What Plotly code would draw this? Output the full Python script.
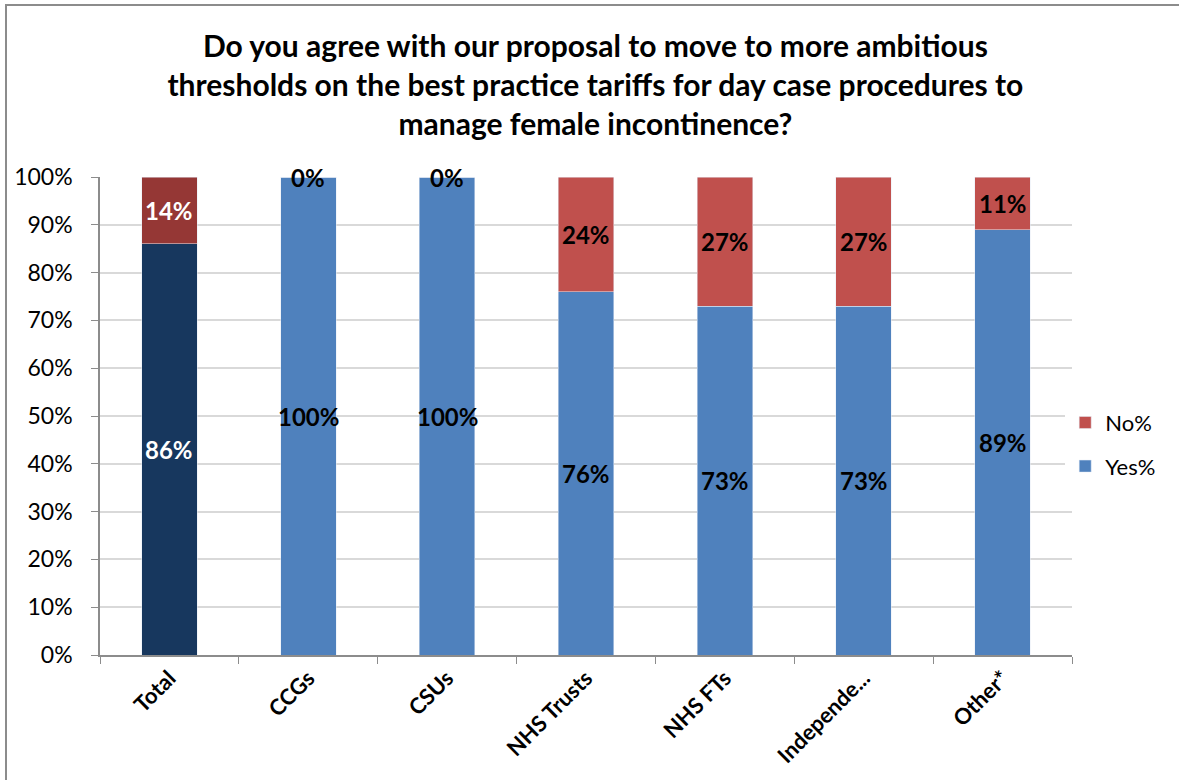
import plotly.graph_objects as go

categories = ["Total", "CCGs", "CSUs", "NHS Trusts", "NHS FTs", "Independe...", "Other*"]
yes_pct = [86, 100, 100, 76, 73, 73, 89]
no_pct = [14, 0, 0, 24, 27, 27, 11]
y_ticks = [0, 10, 20, 30, 40, 50, 60, 70, 80, 90, 100]
title_text = ("Do you agree with our proposal to move to more ambitious<br>"
              "thresholds on the best practice tariffs for day case procedures to<br>"
              "manage female incontinence?")

FONT = "Lato, 'Open Sans', sans-serif"
YES_C, NO_C = "#4F81BD", "#C0504D"
TOT_YES_C, TOT_NO_C = "#17375E", "#953735"

fig = go.Figure()
rest = categories[1:]
fig.add_trace(go.Bar(x=rest, y=yes_pct[1:], name="Yes%", marker_color=YES_C,
                     legendgroup="yes", legendrank=2))
fig.add_trace(go.Bar(x=rest, y=no_pct[1:], name="No%", marker_color=NO_C,
                     legendgroup="no", legendrank=1))
fig.add_trace(go.Bar(x=categories[:1], y=yes_pct[:1], name="Yes%", marker_color=TOT_YES_C,
                     showlegend=False, legendgroup="yes", legendrank=2))
fig.add_trace(go.Bar(x=categories[:1], y=no_pct[:1], name="No%", marker_color=TOT_NO_C,
                     showlegend=False, legendgroup="no", legendrank=1))

annotations = []
for i, c in enumerate(categories):
    col = "white" if i == 0 else "black"
    annotations.append(dict(x=c, y=yes_pct[i] / 2, text=f"{yes_pct[i]}%", showarrow=False,
                            font=dict(family=FONT, size=24, color=col, weight="bold")))
    annotations.append(dict(x=c, y=yes_pct[i] + no_pct[i] / 2, text=f"{no_pct[i]}%", showarrow=False,
                            font=dict(family=FONT, size=24, color=col, weight="bold")))

fig.update_layout(
    width=1179, height=780,
    margin=dict(l=100, r=107, t=177, b=125),
    paper_bgcolor="white", plot_bgcolor="white",
    barmode="stack", bargap=0.6,
    font=dict(family=FONT, size=20, color="black"),
    title=dict(text=title_text, x=0.505, xanchor="center", y=0.927, yanchor="top",
               font=dict(family=FONT, size=30, color="black", weight="bold")),
    legend=dict(x=0.993, xanchor="left", y=0.44, yanchor="middle", font=dict(size=22),
                traceorder="grouped", tracegroupgap=12),
    annotations=annotations,
    xaxis=dict(categoryorder="array", categoryarray=categories, tickangle=-45,
               showline=True, linecolor="#8C8C8C", linewidth=1.5,
               ticks="outside", tickson="boundaries", ticklen=7, tickcolor="#8C8C8C",
               tickfont=dict(family=FONT, size=22, color="black", weight="bold")),
    yaxis=dict(range=[0, 100], tickvals=y_ticks, ticktext=[f"{v}%" for v in y_ticks],
               showline=True, linecolor="#8C8C8C", linewidth=1.5,
               ticks="outside", ticklen=7, tickcolor="#8C8C8C", ticklabelstandoff=14,
               showgrid=True, gridcolor="#D9D9D9", gridwidth=1.5, zeroline=False,
               tickfont=dict(family=FONT, size=23, color="black")),
)

frame_js = (
    "document.body.style.margin='0';document.body.style.overflow='hidden';"
    "var f=document.createElement('div');"
    "f.style.cssText='position:fixed;left:5px;top:4px;width:3000px;height:3000px;"
    "border-left:2px solid #8C8C8C;border-top:2px solid #8C8C8C;pointer-events:none;';"
    "document.body.appendChild(f);"
)
fig.write_html("out.html", config={"displayModeBar": False}, post_script=frame_js)
